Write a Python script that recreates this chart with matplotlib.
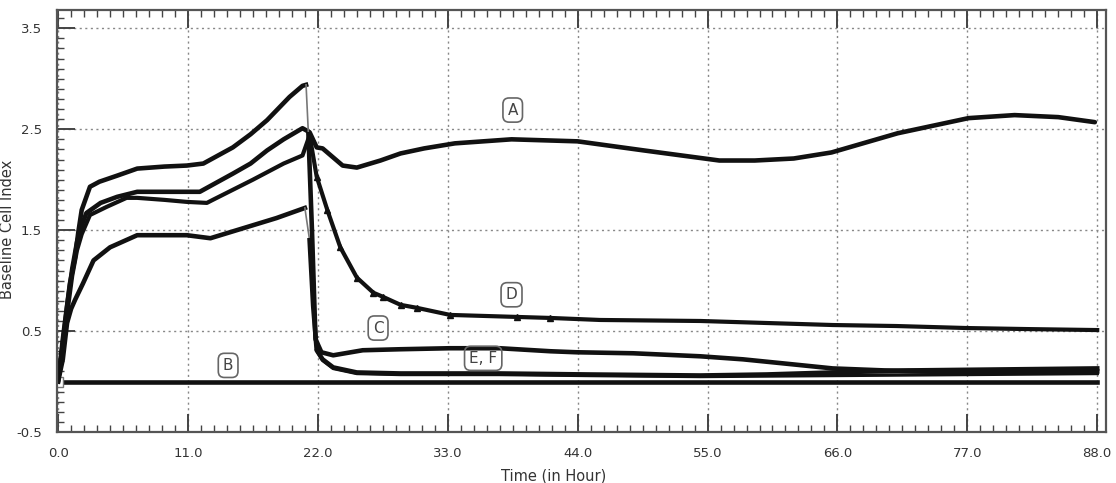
import numpy as np
import matplotlib
matplotlib.use("Agg")
import matplotlib.pyplot as plt
from matplotlib.ticker import MultipleLocator, FixedLocator

# Values (time in hours, baseline cell index)
# curve A
a_t = [0.0, 0.4, 0.8, 1.2, 1.6, 2.0, 2.4, 3.6, 5.0, 6.7, 9.0, 10.9, 12.0, 14.8, 16.3,
       17.7, 19.1, 20.7, 21.3, 21.9, 22.4, 24.1, 25.3, 27.3, 29.0, 31.0, 33.6, 38.4,
       44.0, 49.6, 56.0, 59.0, 62.3, 65.5, 71.1, 77.1, 81.0, 84.7, 87.8]
a_v = [0.0, 0.38, 0.78, 1.12, 1.38, 1.55, 1.67, 1.77, 1.83, 1.88, 1.88, 1.88, 1.88, 2.06, 2.16,
       2.29, 2.40, 2.51, 2.47, 2.32, 2.31, 2.14, 2.12, 2.19, 2.26, 2.31, 2.36, 2.40,
       2.38, 2.29, 2.19, 2.19, 2.21, 2.27, 2.46, 2.61, 2.64, 2.62, 2.57]

# curve B (medium only)
b_t = [0.0, 11.0, 22.0, 33.0, 44.0, 55.0, 66.0, 77.0, 88.0]
b_v = [0.0, 0.0, 0.0, 0.0, 0.0, 0.0, 0.0, 0.0, 0.0]

# curve C (top curve before the drop)
c_t = [0.0, 0.42, 1.0, 1.44, 1.7, 2.0, 2.7, 3.5, 5.0, 6.7, 9.0, 10.9, 12.3, 14.8,
       16.3, 17.7, 19.6, 20.7, 21.0,
       21.2, 21.5, 21.8, 22.3, 23.3, 25.8, 29.0, 33.2, 37.4, 41.7, 43.9, 48.7,
       54.4, 58.0, 61.4, 65.6, 70.0, 74.1, 80.0, 88.0]
c_v = [0.0, 0.44, 0.97, 1.23, 1.47, 1.70, 1.93, 1.98, 2.04, 2.11, 2.13, 2.14, 2.16, 2.32,
       2.45, 2.59, 2.82, 2.93, 2.94,
       2.45, 1.50, 0.42, 0.29, 0.26, 0.31, 0.32, 0.33, 0.33, 0.30, 0.29, 0.28,
       0.25, 0.22, 0.18, 0.13, 0.11, 0.10, 0.10, 0.10]
c_drop = 18  # index of the last point before the sharp fall

# curve D
d_t = [0.0, 0.4, 0.8, 1.2, 1.6, 2.0, 2.7, 4.1, 5.8, 6.7, 9.0, 10.9, 12.6, 13.1, 14.8,
       16.5, 19.1, 20.7, 21.3, 21.9, 22.8, 23.9, 25.3, 26.7, 27.5, 29.0, 30.4, 33.2,
       38.9, 41.7, 45.9, 54.4, 60.0, 65.6, 71.0, 77.0, 82.0, 88.0]
d_v = [0.0, 0.33, 0.70, 1.05, 1.30, 1.46, 1.65, 1.73, 1.82, 1.82, 1.80, 1.78, 1.77, 1.80, 1.90,
       2.00, 2.16, 2.24, 2.44, 2.03, 1.70, 1.33, 1.03, 0.88, 0.84, 0.76, 0.73, 0.66,
       0.64, 0.63, 0.61, 0.60, 0.58, 0.56, 0.55, 0.53, 0.52, 0.51]

# curves E and F (lowest curve before the drop)
e_t = [0.0, 0.4, 0.76, 1.1, 1.44, 2.1, 3.0, 4.4, 6.7, 9.0, 10.9, 12.9, 15.7, 18.5, 20.9,
       21.3, 21.6, 21.9, 22.4, 23.3, 25.3, 29.0, 37.4, 45.0, 54.4, 60.0, 65.6, 72.0, 80.0, 88.0]
e_v = [0.0, 0.22, 0.58, 0.72, 0.81, 0.97, 1.20, 1.33, 1.45, 1.45, 1.45, 1.42, 1.52, 1.62, 1.72,
       1.40, 0.75, 0.31, 0.22, 0.14, 0.09, 0.08, 0.08, 0.07, 0.06, 0.07, 0.09, 0.11, 0.12, 0.13]
f_t = [21.9, 22.4, 23.3, 25.3, 29.0, 37.4, 45.0, 54.4, 65.6, 77.0, 88.0]
f_v = [0.31, 0.21, 0.13, 0.08, 0.07, 0.07, 0.06, 0.05, 0.06, 0.07, 0.08]
e_drop = 14

labels = ["A", "B", "C", "D", "E, F"]
label_t = [38.5, 14.4, 27.1, 38.4, 36.0]
label_v = [2.69, 0.16, 0.53, 0.86, 0.23]

x_ticks = [0, 11, 22, 33, 44, 55, 66, 77, 88]
y_ticks = [-0.5, 0.5, 1.5, 2.5, 3.5]

fig = plt.figure(figsize=(11.16, 4.83), dpi=100)
ax = fig.add_axes([0.0511, 0.1056, 0.9399, 0.8734])

ink = "#111111"
lw = 3.3

# A
ax.plot(a_t, a_v, color=ink, lw=lw, solid_capstyle="round")
# B
ax.plot(b_t, b_v, color=ink, lw=lw, marker="s", markevery=[0], ms=7,
        mfc="white", mec="#777777")
# C: thick, thin gray at the sudden fall, thick again
ax.plot(c_t[:c_drop + 1], c_v[:c_drop + 1], color=ink, lw=lw)
ax.plot(c_t[c_drop:c_drop + 2], c_v[c_drop:c_drop + 2], color="#777777", lw=1.2)
ax.plot(c_t[c_drop + 1:], c_v[c_drop + 1:], color=ink, lw=lw)
# D
ax.plot(d_t, d_v, color=ink, lw=lw - 0.3, marker="^", markevery=slice(19, 30), ms=4)
# E, F
ax.plot(e_t[:e_drop + 1], e_v[:e_drop + 1], color=ink, lw=lw)
ax.plot(e_t[e_drop:e_drop + 2], e_v[e_drop:e_drop + 2], color="#777777", lw=1.2)
ax.plot(e_t[e_drop + 1:], e_v[e_drop + 1:], color=ink, lw=lw)
ax.plot(f_t, f_v, color=ink, lw=lw - 0.8)

for lab, t, v in zip(labels, label_t, label_v):
    ax.text(t, v, lab, ha="center", va="center", fontsize=11, color="#444444",
            bbox=dict(boxstyle="round,pad=0.3,rounding_size=0.4",
                      facecolor="white" if lab != "E, F" else "none",
                      edgecolor="#666666", lw=1.2), zorder=5)

ax.set_xlim(-0.09, 88.74)
ax.set_ylim(-0.5, 3.68)
ax.xaxis.set_major_locator(FixedLocator(x_ticks))
ax.xaxis.set_minor_locator(MultipleLocator(1.1))
ax.yaxis.set_major_locator(FixedLocator(y_ticks))
ax.yaxis.set_minor_locator(MultipleLocator(0.1))
ax.set_xticklabels([f"{t:.1f}" for t in x_ticks])
ax.set_yticklabels([f"{t:.1f}" for t in y_ticks])

ax.tick_params(which="major", direction="in", length=13, width=1.4, color="#444444",
               labelsize=9.5, labelcolor="#333333", top=True, pad=11)
ax.tick_params(which="minor", direction="in", length=5, width=1.0, color="#444444",
               top=True)
ax.tick_params(axis="y", which="both", right=False)

ax.grid(True, which="major", linestyle=(0, (1.5, 2.5)), color="#888888", lw=1.0)
for s in ax.spines.values():
    s.set_color("#555555")
    s.set_linewidth(1.6)

ax.set_xlabel("Time (in Hour)", fontsize=10.5, color="#333333")
ax.set_ylabel("Baseline Cell Index", fontsize=10.5, color="#333333")
ax.xaxis.set_label_coords(0.473, -0.087)
ax.yaxis.set_label_coords(-0.040, 0.48)

fig.savefig("out.png", dpi=100)
